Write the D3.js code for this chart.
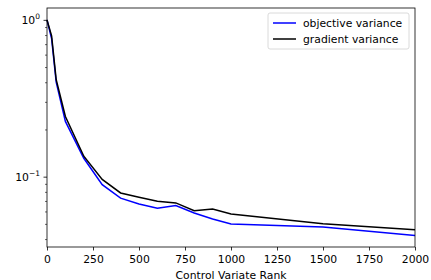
<!doctype html>
<html>
<head>
<meta charset="utf-8">
<script src="https://d3js.org/d3.v7.min.js"></script>
<style>
  body { margin: 0; background: #fff; }
  text { font-family: "DejaVu Sans", sans-serif; }
</style>
</head>
<body>
<div id="chart"></div>
<script>
// control variate rank
var ranks = [0, 25, 50, 100, 200, 300, 400, 500, 600, 700, 800, 900, 1000, 1500, 2000];
var objectiveVar = [1.0, 0.76, 0.40, 0.225, 0.131, 0.089, 0.073, 0.067, 0.063, 0.0654, 0.0586, 0.0537, 0.0499, 0.0477, 0.0421];
var gradientVar = [1.0, 0.79, 0.415, 0.242, 0.135, 0.096, 0.0787, 0.0738, 0.0696, 0.068, 0.0607, 0.0622, 0.0578, 0.0501, 0.0459];
var xTicks = [0, 250, 500, 750, 1000, 1250, 1500, 1750, 2000];
var legendNames = ["objective variance", "gradient variance"];
var colors = ["#0000ff", "#000000"];

var W = 431, H = 280;
var m = {left: 47, right: 16, top: 8, bottom: 33};
var fs = 10.8;

var svg = d3.select("#chart").append("svg").attr("width", W).attr("height", H);

var x = d3.scaleLinear().domain([0, 2000]).range([m.left, W - m.right]);
var y = d3.scaleLog().domain([0.0356, 1.19]).range([H - m.bottom, m.top]);

var line = d3.line().x(function (d) { return x(d[0]); }).y(function (d) { return y(d[1]); });

var series = [objectiveVar, gradientVar];
series.forEach(function (s, i) {
  svg.append("path")
    .datum(ranks.map(function (r, j) { return [r, s[j]]; }))
    .attr("d", line)
    .attr("fill", "none")
    .attr("stroke", colors[i])
    .attr("stroke-width", 1.5);
});

// frame
svg.append("rect")
  .attr("x", m.left).attr("y", m.top)
  .attr("width", W - m.left - m.right).attr("height", H - m.top - m.bottom)
  .attr("fill", "none").attr("stroke", "#000").attr("stroke-width", 0.8);

// x axis
var xa = svg.append("g").attr("transform", "translate(0," + (H - m.bottom) + ")")
  .call(d3.axisBottom(x).tickValues(xTicks).tickSize(3.5).tickPadding(4.5).tickFormat(d3.format("d")));
xa.select(".domain").remove();
xa.selectAll("text").attr("font-size", fs).attr("fill", "#000").attr("font-family", "DejaVu Sans");
xa.selectAll("line").attr("stroke-width", 0.8);

svg.append("text")
  .attr("x", (m.left + W - m.right) / 2).attr("y", H - 1.5)
  .attr("text-anchor", "middle").attr("font-size", fs)
  .text("Control Variate Rank");

// y axis, log ticks
var minor = [];
[0.01, 0.1].forEach(function (b) {
  for (var k = 2; k <= 9; k++) {
    var v = b * k;
    if (v >= y.domain()[0] && v <= y.domain()[1]) minor.push(v);
  }
});
var ya = svg.append("g").attr("transform", "translate(" + m.left + ",0)")
  .call(d3.axisLeft(y).tickValues(minor).tickSize(2).tickFormat(""));
ya.select(".domain").remove();
ya.selectAll("line").attr("stroke-width", 0.6);

var majors = [1, 0.1];
var yb = svg.append("g").attr("transform", "translate(" + m.left + ",0)")
  .call(d3.axisLeft(y).tickValues(majors).tickSize(3.5).tickFormat(""));
yb.select(".domain").remove();
yb.selectAll("line").attr("stroke-width", 0.8);

var exps = ["0", "\u22121"];
majors.forEach(function (v, i) {
  var t = svg.append("text")
    .attr("x", m.left - 7).attr("y", y(v) + 4)
    .attr("text-anchor", "end").attr("font-size", fs);
  t.append("tspan").text("10");
  t.append("tspan").attr("dy", -5).attr("font-size", 7.5).text(exps[i]);
});

// legend
var lg = svg.append("g").attr("transform", "translate(268,13)");
lg.append("rect").attr("width", 141).attr("height", 36).attr("rx", 2)
  .attr("fill", "#fff").attr("fill-opacity", 0.8)
  .attr("stroke", "#d0d0d0").attr("stroke-width", 0.8);
legendNames.forEach(function (n, i) {
  var yy = 10 + i * 16;
  lg.append("line").attr("x1", 5).attr("x2", 28).attr("y1", yy).attr("y2", yy)
    .attr("stroke", colors[i]).attr("stroke-width", 1.5);
  lg.append("text").attr("x", 35).attr("y", yy + 4).attr("font-size", fs).text(n);
});
</script>
</body>
</html>
